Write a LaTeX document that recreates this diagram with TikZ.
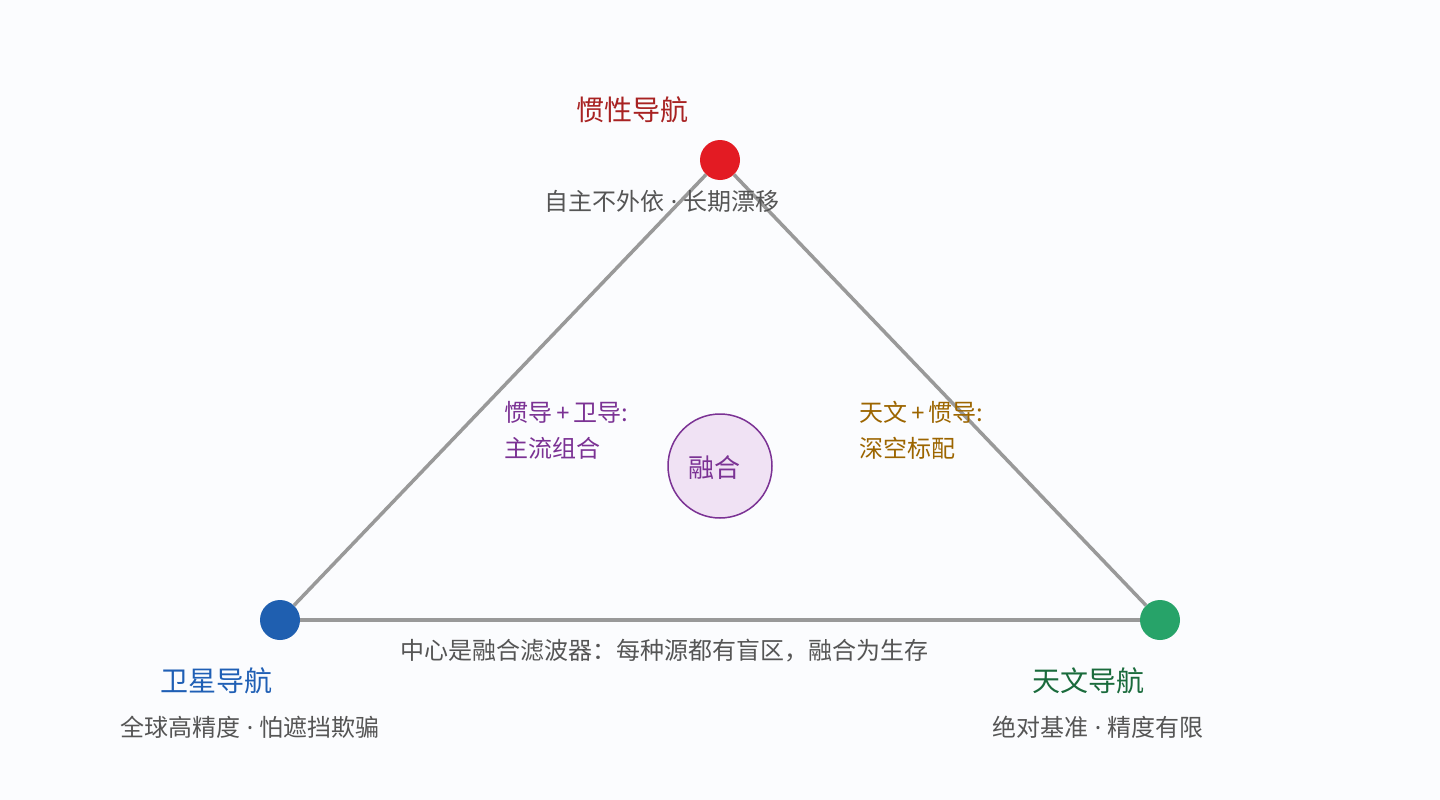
\documentclass[tikz,border=0pt]{standalone}
\usepackage{fontspec}
\setmainfont{Noto Sans CJK SC}
\newfontfamily\latinf{Noto Sans}
\definecolor{bgc}{HTML}{FBFCFE}
\definecolor{edgec}{HTML}{999999}
\definecolor{redn}{HTML}{E31B23}
\definecolor{bluen}{HTML}{1F5FB0}
\definecolor{greenn}{HTML}{27A369}
\definecolor{redt}{HTML}{A82222}
\definecolor{bluet}{HTML}{1F5FB5}
\definecolor{greent}{HTML}{1A6B3C}
\definecolor{purp}{HTML}{7B3294}
\definecolor{purpfill}{HTML}{F0E2F4}
\definecolor{ochre}{HTML}{9C6500}
\definecolor{greyt}{HTML}{555555}
\newcommand{\middot}{{\latinf\ ·\ }}
\tikzset{
  dotnode/.style={circle, minimum size=40pt, inner sep=0pt},
  titletext/.style={inner sep=0pt, font=\fontsize{28}{32}\selectfont},
  subtext/.style={inner sep=0pt, text=greyt, font=\fontsize{24}{28}\selectfont},
  pairtext/.style={inner sep=0pt, anchor=north west, align=left, font=\fontsize{24}{36}\selectfont},
  edgeline/.style={draw=edgec, line width=3.5pt},
}
\begin{document}
\begin{tikzpicture}[x=1pt,y=-1pt]
\useasboundingbox (0,0) rectangle (1440,800);
\fill[bgc] (0,0) rectangle (1440,800);
% vertices
\node[dotnode, fill=redn] (ins) at (720,160) {};
\node[dotnode, fill=bluen] (gnss) at (280,620) {};
\node[dotnode, fill=greenn] (cns) at (1160,620) {};
% edges
\draw[edgeline] (ins) -- (gnss);
\draw[edgeline] (gnss) -- (cns);
\draw[edgeline] (cns) -- (ins);
% center
\node[circle, minimum size=104pt, inner sep=0pt, draw=purp, line width=1.5pt, fill=purpfill] (fuse) at (720,466) {};
\node[inner sep=0pt, text=purp, font=\fontsize{26}{30}\selectfont] (fuseT) at (714,468) {融合};
% titles
\node[titletext, text=redt] (insT) at (632,110) {惯性导航};
\node[subtext] (insS) at (662,201) {自主不外依\middot 长期漂移};
\node[titletext, text=bluet] (gnssT) at (216,681) {卫星导航};
\node[subtext] (gnssS) at (250,727) {全球高精度\middot 怕遮挡欺骗};
\node[titletext, text=greent] (cnsT) at (1088,681) {天文导航};
\node[subtext] (cnsS) at (1098,727) {绝对基准\middot 精度有限};
% pair labels
\node[pairtext, text=purp] (pairA) at (504,401) {惯导{\latinf\,+\,}卫导:\\主流组合};
\node[pairtext, text=ochre] (pairB) at (859,401) {天文{\latinf\,+\,}惯导:\\深空标配};
% caption
\node[subtext] (cap) at (664,651) {中心是融合滤波器：每种源都有盲区，融合为生存};
\end{tikzpicture}
\end{document}
